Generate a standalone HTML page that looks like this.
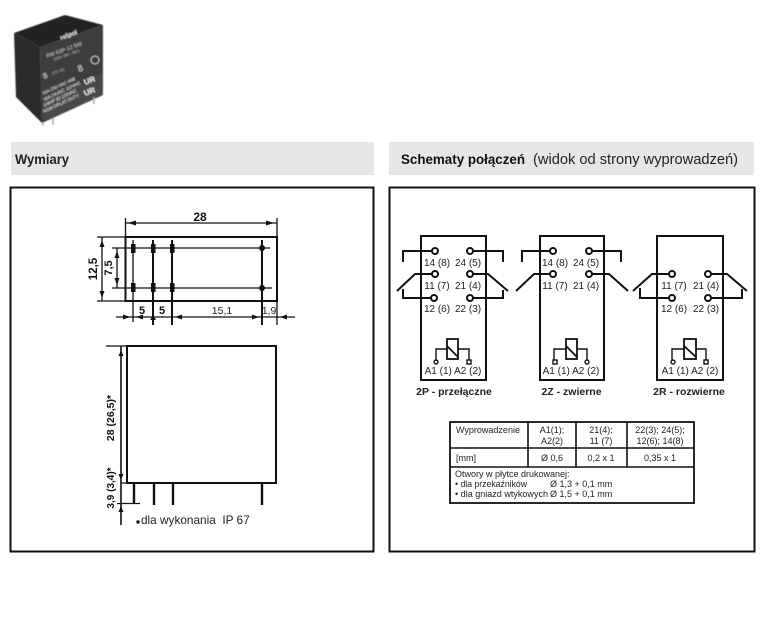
<!DOCTYPE html>
<html><head><meta charset="utf-8"><style>
html,body{margin:0;padding:0;background:#fff}
svg{display:block}
text{font-family:"Liberation Sans",Arial,sans-serif;fill:#222}
.l{font-size:10px}.m{text-anchor:middle}
.t{font-size:10.5px;font-weight:bold;text-anchor:middle}
.c{font-size:9px}
.d{font-size:11px;font-weight:bold;fill:#111}
.k{fill:none;stroke:#111;stroke-width:2}
.w{fill:#fff;stroke:#111;stroke-width:2}
.f{fill:none;stroke:#111;stroke-width:1.400}
</style></head><body>
<svg width="780" height="622" viewBox="0 0 780 622" xmlns="http://www.w3.org/2000/svg">
<defs><filter id="b" x="-5%" y="-5%" width="110%" height="110%"><feGaussianBlur stdDeviation="0.45"/></filter></defs>
<rect width="780" height="622" fill="#fff"/>

<!-- relay photo -->
<g filter="url(#b)">
<polygon points="14,33 65,15 103,25 40,47" fill="#242424"/>
<polygon points="14,33 40,47 42,123 16,97" fill="#2c2c2c"/>
<polygon points="40,47 103,25 103,95 42,123" fill="#3c3c3c"/>
<polygon points="44,99 80,85 103,72 103,95 44,121" fill="#4a4a4a"/>
<g stroke="#aaa" stroke-width="1.500"><line x1="43" y1="122" x2="43" y2="126"/><line x1="53" y1="118" x2="53" y2="125"/><line x1="94" y1="97" x2="94" y2="104"/></g>
<g style="font-size:5px">
<text x="61" y="40" transform="rotate(-20 61 40)" style="fill:#eee;font-weight:bold;font-size:6.500px">relpol</text>
<text x="47" y="58" transform="rotate(-20 47 58)" style="fill:#ccc;font-size:5.500px">RM 83P-12 5W</text>
<text x="54" y="61" transform="rotate(-20 54 61)" style="fill:#bbb;font-size:4.200px">250V 8A~ AC1</text>
<text x="44" y="79" transform="rotate(-20 44 79)" style="fill:#ddd;font-size:8px">8</text>
<text x="52" y="75" transform="rotate(-20 52 75)" style="fill:#bbb;font-size:4px">12V DC</text>
<text x="79" y="72" transform="rotate(-20 79 72)" style="fill:#ddd;font-size:9px">8</text>
<circle cx="95" cy="60" r="4" fill="none" stroke="#ccc" stroke-width="1"/>
<text x="85" y="85" transform="rotate(-20 85 85)" style="fill:#eee;font-size:8px;font-weight:bold">UR</text>
<text x="85" y="96" transform="rotate(-20 85 96)" style="fill:#eee;font-size:8px;font-weight:bold">UR</text>
<text x="43" y="95" transform="rotate(-25 43 95)" style="fill:#eee;font-size:4.500px">16A 250 VAC 48B</text>
<text x="44" y="101" transform="rotate(-25 44 101)" style="fill:#eee;font-size:4.500px">16A 24VDC 110VAC</text>
<text x="44" y="107" transform="rotate(-25 44 107)" style="fill:#eee;font-size:4.500px">1/4HP 30 120VAC</text>
<text x="44" y="113" transform="rotate(-25 44 113)" style="fill:#eee;font-size:4.500px">RGM DPLAT DUTY</text>
</g>
</g>

<!-- headers -->
<rect x="11" y="142" width="363" height="33" fill="#e6e6e6"/>
<rect x="389" y="142" width="365" height="33" fill="#e6e6e6"/>
<text x="15" y="164" textLength="54" lengthAdjust="spacingAndGlyphs" style="font-size:14px;font-weight:bold">Wymiary</text>
<text x="401" y="164" textLength="124" lengthAdjust="spacingAndGlyphs" style="font-size:14px;font-weight:bold;fill:#111">Schematy połączeń</text>
<text x="533" y="164" textLength="205" lengthAdjust="spacingAndGlyphs" style="font-size:15px">(widok od strony wyprowadzeń)</text>

<!-- panels -->
<rect x="10.500" y="187.500" width="363" height="364" fill="#fff" stroke="#111" stroke-width="2"/>
<rect x="389.500" y="187.500" width="365" height="364" fill="#fff" stroke="#111" stroke-width="2"/>

<!-- top view -->
<rect x="125.500" y="237" width="151.500" height="64" fill="none" stroke="#111" stroke-width="2"/>
<g stroke="#111" stroke-width="1.300">
<line x1="125.500" y1="218" x2="125.500" y2="237"/><line x1="277" y1="218" x2="277" y2="325"/>
<line x1="125.500" y1="223" x2="277" y2="223"/>
<line x1="97" y1="237" x2="125" y2="237"/><line x1="97" y1="301" x2="125" y2="301"/>
<line x1="102" y1="237" x2="102" y2="301"/>
<line x1="112" y1="248" x2="270" y2="248"/><line x1="112" y1="288" x2="272" y2="288"/>
<line x1="117" y1="248" x2="117" y2="288"/>
<line x1="116" y1="317" x2="295" y2="317"/>
<line x1="133" y1="240" x2="133" y2="322"/>
</g>
<g stroke="#111" stroke-width="2">
<line x1="153" y1="240" x2="153" y2="325"/><line x1="172" y1="240" x2="172" y2="325"/><line x1="262" y1="240" x2="262" y2="325"/>
</g>
<g fill="#111">
<rect x="131" y="244" width="4.500" height="9"/><rect x="131" y="283" width="4.500" height="9"/>
<rect x="151" y="244" width="4.500" height="9"/><rect x="151" y="283" width="4.500" height="9"/>
<rect x="170" y="244" width="4.500" height="9"/><rect x="170" y="283" width="4.500" height="9"/>
<circle cx="262" cy="248" r="3"/><circle cx="262" cy="288" r="3"/>
<polygon points="128,223 136,220.500 136,225.500"/><polygon points="274,223 266,220.500 266,225.500"/>
<polygon points="102,240 99.500,247 104.500,247"/><polygon points="102,298 99.500,291 104.500,291"/>
<polygon points="117,251 114.500,258 119.500,258"/><polygon points="117,285 114.500,278 119.500,278"/>
<polygon points="130,317 123,314.500 123,319.500"/><polygon points="136,317 143,314.500 143,319.500"/>
<polygon points="175,317 182,314.500 182,319.500"/><polygon points="259,317 252,314.500 252,319.500"/>
<polygon points="280,317 287,314.500 287,319.500"/>
<polygon points="153,315 150,320 156,320"/>
</g>
<text x="200" y="221" class="d m" style="font-size:12px">28</text>
<text class="d m" transform="translate(97,269) rotate(-90)" style="font-size:11.500px">12,5</text>
<text class="d m" transform="translate(112,268) rotate(-90)">7,5</text>
<text x="142" y="314" class="d m">5</text>
<text x="162" y="314" class="d m">5</text>
<text x="222" y="314" class="m" style="font-size:10.500px">15,1</text>
<text x="269" y="314" class="m" style="font-size:10.500px">1,9</text>

<!-- side view -->
<rect x="127" y="346" width="149" height="137" fill="none" stroke="#111" stroke-width="2"/>
<g stroke="#111" stroke-width="1.200">
<line x1="106" y1="346" x2="127" y2="346"/><line x1="121" y1="483" x2="127" y2="483"/>
<line x1="117" y1="503.500" x2="140" y2="503.500"/>
</g>
<line x1="121" y1="346" x2="121" y2="525" stroke="#111" stroke-width="1.600"/>
<g stroke="#111" stroke-width="2.400">
<line x1="134" y1="483" x2="134" y2="503"/><line x1="154" y1="483" x2="154" y2="505"/><line x1="173" y1="483" x2="173" y2="505"/><line x1="262" y1="483" x2="262" y2="505"/>
</g>
<polygon points="121,350 118.500,356 123.500,356" fill="#111"/><polygon points="121,480 118.500,474 123.500,474" fill="#111"/>
<polygon points="121,506 118.500,512 123.500,512" fill="#111"/>
<text class="d m" transform="translate(114,418) rotate(-90)" style="font-size:10.500px">28 (26,5)*</text>
<text class="d m" transform="translate(114,488) rotate(-90)" style="font-size:10px">3,9 (3,4)*</text>
<circle cx="138" cy="522" r="1.700" fill="#111"/>
<text x="141" y="524" style="font-size:11.800px">dla wykonania&#160;&#160;IP 67</text>

<!-- 2P -->
<rect x="421" y="236" width="65" height="144" class="k"/>
<g class="k">
<path d="M403 262V251H432"/><path d="M503 262V251H473"/>
<path d="M397 291L415 274H432"/><path d="M508 291L488 274H473"/>
<path d="M403 289V298H431"/><path d="M503 290V298H473"/>
</g>
<g class="w">
<circle cx="435" cy="251" r="3"/><circle cx="470" cy="251" r="3"/><circle cx="435" cy="274" r="3"/><circle cx="470" cy="274" r="3"/><circle cx="434" cy="298" r="3"/><circle cx="470" cy="298" r="3"/>
</g>
<g class="f">
<rect x="447" y="339" width="11" height="20" style="stroke-width:1.800"/><path d="M447 346L458 357" style="stroke-width:1.800"/>
<path d="M447 349H436V360"/><path d="M458 349H469V360"/>
<circle cx="436" cy="362" r="2"/><rect x="467" y="360" width="4" height="4"/>
</g>
<text x="437" y="266" class="l m">14 (8)</text><text x="468" y="266" class="l m">24 (5)</text>
<text x="437" y="289" class="l m">11 (7)</text><text x="468" y="289" class="l m">21 (4)</text>
<text x="437" y="312" class="l m">12 (6)</text><text x="468" y="312" class="l m">22 (3)</text>
<text x="453" y="374" class="l m">A1 (1) A2 (2)</text>
<text x="454" y="395" class="t">2P - przełączne</text>

<!-- 2Z -->
<rect x="540" y="236" width="64" height="144" class="k"/>
<g class="k">
<path d="M522 262V251H550"/><path d="M621 262V251H592"/>
<path d="M516 291L534 274H550"/><path d="M628 291L609 274H592"/>
</g>
<g class="w">
<circle cx="553" cy="251" r="3"/><circle cx="589" cy="251" r="3"/><circle cx="553" cy="274" r="3"/><circle cx="589" cy="274" r="3"/>
</g>
<g class="f">
<rect x="566" y="339" width="11" height="20" style="stroke-width:1.800"/><path d="M566 346L577 357" style="stroke-width:1.800"/>
<path d="M566 349H554V360"/><path d="M577 349H587V360"/>
<rect x="553" y="360" width="4" height="4"/><circle cx="587" cy="362" r="2"/>
</g>
<text x="555" y="266" class="l m">14 (8)</text><text x="586" y="266" class="l m">24 (5)</text>
<text x="555" y="289" class="l m">11 (7)</text><text x="586" y="289" class="l m">21 (4)</text>
<text x="571" y="374" class="l m">A1 (1) A2 (2)</text>
<text x="571.500" y="395" class="t">2Z - zwierne</text>

<!-- 2R -->
<rect x="657" y="236" width="66" height="144" class="k"/>
<g class="k">
<path d="M633 291L652 274H669"/><path d="M747 291L727 274H711"/>
<path d="M640 288V298H669"/><path d="M742 289V298H711"/>
</g>
<g class="w">
<circle cx="672" cy="274" r="3"/><circle cx="708" cy="274" r="3"/><circle cx="672" cy="298" r="3"/><circle cx="708" cy="298" r="3"/>
</g>
<g class="f">
<rect x="684" y="339" width="12" height="20" style="stroke-width:1.800"/><path d="M684 346L696 357" style="stroke-width:1.800"/>
<path d="M684 349H672V360"/><path d="M696 349H706V360"/>
<circle cx="673" cy="362" r="2"/><rect x="704" y="360" width="4" height="4"/>
</g>
<text x="674" y="289" class="l m">11 (7)</text><text x="706" y="289" class="l m">21 (4)</text>
<text x="674" y="312" class="l m">12 (6)</text><text x="706" y="312" class="l m">22 (3)</text>
<text x="690" y="374" class="l m">A1 (1) A2 (2)</text>
<text x="689" y="395" class="t">2R - rozwierne</text>

<!-- table -->
<rect x="450" y="422" width="244" height="81" fill="#fff" stroke="#111" stroke-width="1.800"/>
<g stroke="#111" stroke-width="1.600">
<line x1="450" y1="448" x2="694" y2="448"/><line x1="450" y1="467" x2="694" y2="467"/>
<line x1="528" y1="422" x2="528" y2="467"/><line x1="576" y1="422" x2="576" y2="467"/><line x1="627" y1="422" x2="627" y2="467"/>
</g>
<text x="456" y="433" class="c">Wyprowadzenie</text>
<text x="552" y="433" class="c m">A1(1);</text><text x="552" y="444" class="c m">A2(2)</text>
<text x="601" y="433" class="c m">21(4);</text><text x="601" y="444" class="c m">11 (7)</text>
<text x="660" y="433" class="c m">22(3); 24(5);</text><text x="660" y="444" class="c m">12(6); 14(8)</text>
<text x="456" y="461" class="c">[mm]</text>
<text x="552" y="461" class="c m">Ø 0,6</text>
<text x="601" y="461" class="c m">0,2 x 1</text>
<text x="660" y="461" class="c m">0,35 x 1</text>
<text x="455" y="477" class="c">Otwory w płytce drukowanej:</text>
<text x="455" y="487" class="c" textLength="72" lengthAdjust="spacingAndGlyphs">• dla przekaźników</text><text x="550" y="487" class="c">Ø 1,3 + 0,1 mm</text>
<text x="455" y="497" class="c" textLength="93" lengthAdjust="spacingAndGlyphs">• dla gniazd wtykowych</text><text x="550" y="497" class="c">Ø 1,5 + 0,1 mm</text>
</svg>
</body></html>
